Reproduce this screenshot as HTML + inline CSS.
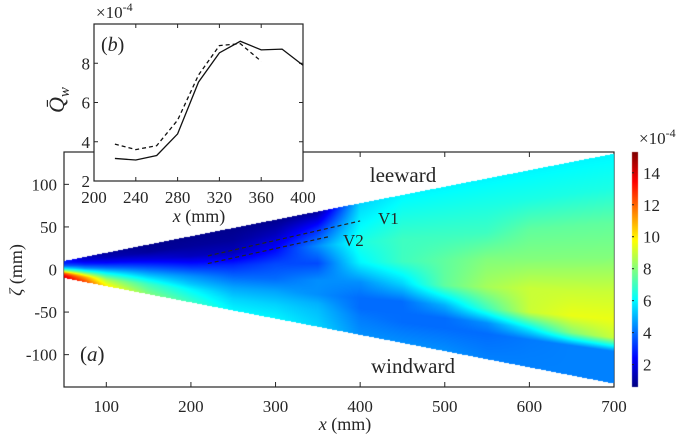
<!DOCTYPE html>
<html><head><meta charset="utf-8">
<style>
html,body{margin:0;padding:0;background:#fff;}
#wrap{position:relative;width:685px;height:436px;overflow:hidden;font-family:"Liberation Serif",serif;}
svg,canvas{position:absolute;left:0;top:0;}
text{font-family:"Liberation Serif",serif;fill:#262626;}
</style></head>
<body>
<div id="wrap">
<svg id="main" width="685" height="436"></svg>
<canvas id="heat" width="685" height="436"></canvas>
<svg id="over" width="685" height="436"></svg>
</div>
<script>
// ---- heatmap data (values ×1e-4) ----
const colX = [50,75,100,150,200,250,300,350,400,450,500,550,600,650,700];
const rowS = [0,0.15,0.3,0.45,0.6,0.72,0.8,0.86,1];
const fieldVals = [
 [3,3,4,6,9,12,13,13.5,14],
 [1.5,2,3,4.5,7,9.5,11,11.5,12.5],
 [1,1.5,2.5,4,6,7.5,8.5,9,10],
 [0.8,1,2,3.5,5,6.2,7,7.3,8],
 [0.8,1,1.5,3,4.5,5.3,6,6.3,7],
 [0.8,1,1.5,3,4,4.8,5.2,5.5,6],
 [0.8,1.5,2.5,3.5,4,4.8,5.2,5.5,6],
 [1,3,4.5,3.5,4.5,4.5,5,5.2,5.5],
 [5.5,6,6.5,6,4.5,4,4,4.2,4.5],
 [6,6.5,7,7,5.5,4,4,4,4.5],
 [6,6.5,7,7.5,7.5,5,4,4,4.5],
 [6,6.5,7,8,8.5,7,4.5,4,4.3],
 [6,6.5,7.5,8,9,9,6,4.2,4.3],
 [6,6.5,7.5,8,9,9.5,8,4.3,4.3],
 [6,6.5,7.5,8,9,9.5,9,4.3,4.3]
];
const edgeX = [50,700];
const topEdge = [10,136];
const botEdge = [-10,-134];
const xTicks = [100,200,300,400,500,600,700];
const yTicks = [-100,-50,0,50,100];
const cTicks = [2,4,6,8,10,12,14];
const cRange = [0.6,15.3];
// ---- inset data ----
const insetX = [220,240,260,280,300,320,340,360,380,400];
const insetSolid = [3.15,3.07,3.3,4.4,7.04,8.53,9.12,8.68,8.72,7.9];
const insetDashX = [220,240,260,280,300,320,340,360];
const insetDash = [3.88,3.6,3.8,5.1,7.4,8.9,9.0,8.1];
const insetXTicks = [200,240,280,320,360,400];
const insetYTicks = [2,4,6,8];
const v1 = [[220,16],[400,57]];
const v2 = [[220,7],[365,39]];

const L=64,R=614,T=152,B=387;
const xs = v => L+(v-50)*(R-L)/650;
const ys = z => 269.5 - z*(B-T)/276;
const NS='http://www.w3.org/2000/svg';
function el(parent,tag,attrs,txt){const e=document.createElementNS(NS,tag);for(const k in attrs)e.setAttribute(k,attrs[k]);if(txt!==undefined)e.textContent=txt;parent.appendChild(e);return e;}
function jet(v){let t=(v-cRange[0])/(cRange[1]-cRange[0]);t=Math.max(0,Math.min(1,t));
 const c=x=>Math.round(255*Math.max(0,Math.min(1,x)));
 return [c(1.5-Math.abs(4*t-3)),c(1.5-Math.abs(4*t-2)),c(1.5-Math.abs(4*t-1))];}

const main=document.getElementById('main');
const box=el(main,'rect',{x:L,y:T,width:R-L,height:B-T,fill:'none',stroke:'#262626','stroke-width':1.2});

xTicks.forEach(v=>{const x=xs(v);
 el(main,'line',{x1:x,y1:B,x2:x,y2:B-5,stroke:'#262626'});el(main,'line',{x1:x,y1:T,x2:x,y2:T+5,stroke:'#262626'});
 const t=el(main,'text',{x:x,y:412,'text-anchor':'middle','font-size':17},v);
 });
yTicks.forEach(v=>{const y=ys(v);
 el(main,'line',{x1:L,y1:y,x2:L+5,y2:y,stroke:'#262626'});el(main,'line',{x1:R,y1:y,x2:R-5,y2:y,stroke:'#262626'});
 const t=el(main,'text',{x:57,y:y+6,'text-anchor':'end','font-size':17},v);
 });
let t=el(main,'text',{x:345,y:430,'text-anchor':'middle','font-size':18});
t.innerHTML='<tspan font-style="italic">x</tspan> (mm)';

t=el(main,'text',{x:0,y:0,'text-anchor':'middle','font-size':18,transform:'translate(22,270) rotate(-90)'});
t.innerHTML='<tspan font-style="italic">ζ</tspan> (mm)';


const cv=document.getElementById('heat');const ctx=cv.getContext('2d');
const img=ctx.createImageData(685,436);
function interpRow(x){let i=0;while(i<colX.length-2&&x>colX[i+1])i++;const f=Math.max(0,Math.min(1,(x-colX[i])/(colX[i+1]-colX[i])));return fieldVals[i].map((v,k)=>v*(1-f)+fieldVals[i+1][k]*f);}
for(let px=L;px<R;px++){const x=50+(px+0.5-L)*650/(R-L);
 const fe=(x-edgeX[0])/(edgeX[1]-edgeX[0]);
 const top=topEdge[0]+(topEdge[1]-topEdge[0])*fe, bot=botEdge[0]+(botEdge[1]-botEdge[0])*fe;
 const col=interpRow(x);
 for(let py=T+1;py<B;py++){const z=(269.5-(py+0.5))*276/(B-T);
  if(z>top||z<bot)continue;const s=(top-z)/(top-bot);
  let j=0;while(j<rowS.length-2&&s>rowS[j+1])j++;const g=(s-rowS[j])/(rowS[j+1]-rowS[j]);
  const v=col[j]*(1-g)+col[j+1]*g;const c=jet(v);const o=(py*685+px)*4;
  img.data[o]=c[0];img.data[o+1]=c[1];img.data[o+2]=c[2];img.data[o+3]=255;}}
ctx.putImageData(img,0,0);
const cbT=152,cbB=387;
for(let py=cbT;py<cbB;py++){const v=cRange[1]-(py-cbT)/(cbB-cbT)*(cRange[1]-cRange[0]);const c=jet(v);ctx.fillStyle=`rgb(${c})`;ctx.fillRect(632,py,6,1);}

const ov=document.getElementById('over');
const cby=v=>cbB-(v-cRange[0])/(cRange[1]-cRange[0])*(cbB-cbT);
cTicks.forEach(v=>{const y=cby(v);el(ov,'line',{x1:632,y1:y,x2:634,y2:y,stroke:'#262626'});
 const t=el(ov,'text',{x:643,y:y+6,'font-size':17},v);});
t=el(ov,'text',{x:639,y:144,'font-size':17});t.innerHTML='×10<tspan dy="-7" font-size="12">-4</tspan>';

[[v1,'V1',378,224],[v2,'V2',343,246]].forEach(([p,lab,lx,ly])=>{
 const l=el(ov,'line',{x1:xs(p[0][0]),y1:ys(p[0][1]),x2:xs(p[1][0]),y2:ys(p[1][1]),stroke:'#222','stroke-width':1.2,'stroke-dasharray':'4,3'});
 
 const t=el(ov,'text',{x:lx,y:ly,'font-size':17,fill:'#111'},lab);});
t=el(ov,'text',{x:403,y:182,'text-anchor':'middle','font-size':21,fill:'#111'},'leeward');
t=el(ov,'text',{x:413,y:373,'text-anchor':'middle','font-size':21,fill:'#111'},'windward');
t=el(ov,'text',{x:80,y:361,'font-size':21,fill:'#111'});t.innerHTML='(<tspan font-style="italic">a</tspan>)';

const iL=94,iR=303,iT=24,iB=181;
const ix=v=>iL+(v-200)*(iR-iL)/200, iy=v=>iB-(v-2)*(iB-iT)/8;
const g=el(ov,'g',{});
el(g,'rect',{x:iL,y:iT,width:iR-iL,height:iB-iT,fill:'#fff',stroke:'#262626','stroke-width':1.2});
insetXTicks.forEach(v=>{const x=ix(v);el(g,'line',{x1:x,y1:iB,x2:x,y2:iB-4,stroke:'#262626'});el(g,'line',{x1:x,y1:iT,x2:x,y2:iT+4,stroke:'#262626'});
 const t=el(g,'text',{x:x,y:203,'text-anchor':'middle','font-size':17},v);});
insetYTicks.forEach(v=>{const y=iy(v);el(g,'line',{x1:iL,y1:y,x2:iL+4,y2:y,stroke:'#262626'});el(g,'line',{x1:iR,y1:y,x2:iR-4,y2:y,stroke:'#262626'});
 const t=el(g,'text',{x:90,y:y+6,'text-anchor':'end','font-size':17},v);});
let p=el(g,'polyline',{points:insetX.map((v,i)=>ix(v)+','+iy(insetSolid[i])).join(' '),fill:'none',stroke:'#111','stroke-width':1.3});

p=el(g,'polyline',{points:insetDashX.map((v,i)=>ix(v)+','+iy(insetDash[i])).join(' '),fill:'none',stroke:'#111','stroke-width':1.3,'stroke-dasharray':'4,3'});

t=el(g,'text',{x:96,y:18,'font-size':17});t.innerHTML='×10<tspan dy="-7" font-size="12">-4</tspan>';
t=el(g,'text',{x:101,y:51,'font-size':20,fill:'#111'});t.innerHTML='(<tspan font-style="italic">b</tspan>)';
t=el(g,'text',{x:199,y:222,'text-anchor':'middle','font-size':18});t.innerHTML='<tspan font-style="italic">x</tspan> (mm)';
t=el(g,'text',{x:0,y:0,'text-anchor':'middle','font-size':22,'font-style':'italic',transform:'translate(64,100) rotate(-90)'});
t.innerHTML='Q̄<tspan dy="5" font-size="15">w</tspan>';
</script>
</body></html>
